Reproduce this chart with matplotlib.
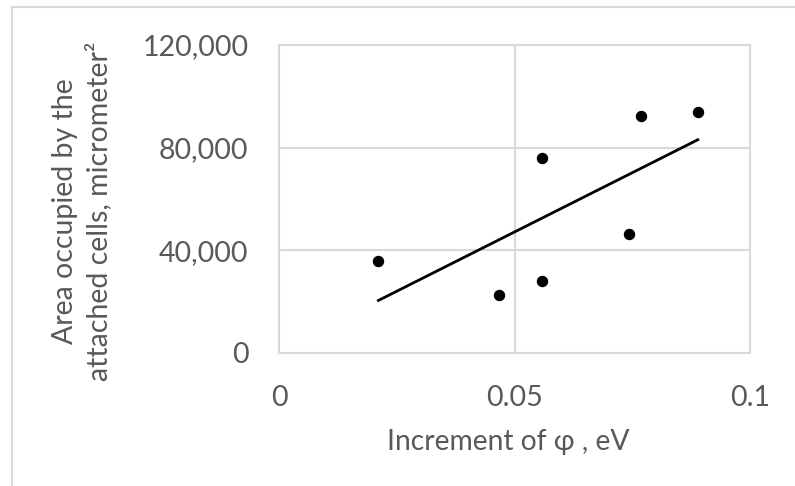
import numpy as np
import matplotlib.pyplot as plt
from matplotlib.lines import Line2D
from matplotlib.ticker import FuncFormatter

# increment of work function (eV) vs. area covered by attached cells
phi_increment = [0.0211, 0.0468, 0.0558, 0.0558, 0.0744, 0.0769, 0.0889]
cell_area = [36000, 22500, 75900, 27900, 46200, 92200, 93800]

x_ticks = [0, 0.05, 0.1]
y_ticks = [0, 40000, 80000, 120000]

text_grey = '#595959'
line_grey = '#d9d9d9'
fonts = ['Lato', 'DejaVu Sans']

fig = plt.figure(figsize=(7.95, 4.86), dpi=100)
ax = fig.add_axes([0.351, 0.2737, 0.5925, 0.6337])

# Scatter points
ax.scatter(phi_increment, cell_area, s=52, color='black', zorder=3)

# Linear trendline across the data range
slope, intercept = np.polyfit(phi_increment, cell_area, 1)
x_fit = np.array([min(phi_increment), max(phi_increment)])
ax.plot(x_fit, slope * x_fit + intercept, color='black', linewidth=2, zorder=2)

ax.set_xlim(0, 0.1)
ax.set_ylim(0, 120000)
ax.set_xticks(x_ticks)
ax.set_yticks(y_ticks)
ax.xaxis.set_major_formatter(FuncFormatter(lambda v, p: '0' if v == 0 else f'{v:g}'))
ax.yaxis.set_major_formatter(FuncFormatter(lambda v, p: f'{int(v):,}'))
ax.tick_params(length=0, labelsize=20.5, labelcolor=text_grey)
ax.tick_params(axis='x', pad=23)
ax.tick_params(axis='y', pad=22)
for lab in ax.get_xticklabels() + ax.get_yticklabels():
    lab.set_family(fonts)

ax.grid(True, color=line_grey, linewidth=1.5)
ax.set_axisbelow(True)
for sp in ax.spines.values():
    sp.set_color(line_grey)
    sp.set_linewidth(1.5)

# Axis titles
fig.text(508 / 795, 1 - 442 / 486, 'Increment of φ , eV', ha='center', va='center',
         fontsize=20.3, color=text_grey, family=fonts)
fig.text(82 / 795, 1 - 211 / 486,
         'Area occupied by the\nattached cells, micrometer²',
         ha='center', va='center', rotation=90, fontsize=20.5, color=text_grey,
         family=fonts, linespacing=1.3)

# Chart area border (top and left edges)
fig.add_artist(Line2D([12 / 795, 1], [1 - 7 / 486, 1 - 7 / 486],
                      transform=fig.transFigure, color=line_grey, linewidth=1.5))
fig.add_artist(Line2D([12 / 795, 12 / 795], [0, 1 - 7 / 486],
                      transform=fig.transFigure, color=line_grey, linewidth=1.5))

fig.savefig('out.png', dpi=100)
